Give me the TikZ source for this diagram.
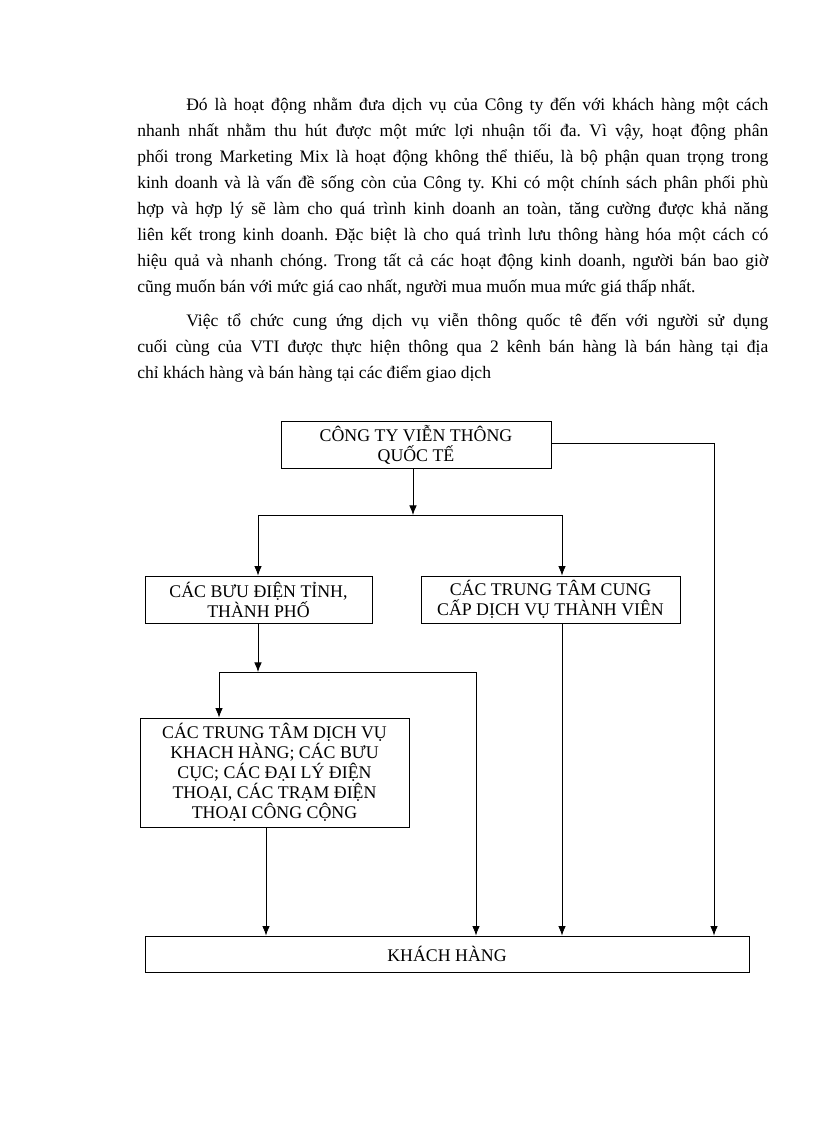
\documentclass[tikz,border=0pt]{standalone}
\usepackage{fontspec}
\setmainfont{Liberation Serif}
\usetikzlibrary{arrows.meta}
\frenchspacing
\newlength\pxu
\setlength\pxu{0.7295pt}
\newcommand\jline[1]{\makebox[631\pxu][s]{#1}}
\newcommand\jfirst[1]{\makebox[582\pxu][s]{#1}}
\begin{document}
\begin{tikzpicture}[x=0.7295pt,y=-0.7295pt,
  bodytext/.style={anchor=base west,inner sep=0pt,font=\fontsize{12.8}{19}\selectfont},
  boxnode/.style={draw,line width=0.6pt,inner sep=0pt,align=center,font=\fontsize{13}{14.6}\selectfont},
  conn/.style={line width=0.6pt},
  arr/.style={line width=0.6pt,-{Latex[length=7pt,width=5.5pt]}}]
\useasboundingbox (0,0) rectangle (816,1123);
% paragraph 1
\node[bodytext] (p1) at (186,110) {\jfirst{Đó là hoạt động nhằm đưa dịch vụ của Công ty đến với khách hàng một cách}};
\node[bodytext] (p2) at (137,136) {\jline{nhanh nhất nhằm thu hút được một mức lợi nhuận tối đa. Vì vậy, hoạt động phân}};
\node[bodytext] (p3) at (137,162) {\jline{phối trong Marketing Mix là hoạt động không thể thiếu, là bộ phận quan trọng trong}};
\node[bodytext] (p4) at (137,188) {\jline{kinh doanh và là vấn đề sống còn của Công ty. Khi có một chính sách phân phối phù}};
\node[bodytext] (p5) at (137,214) {\jline{hợp và hợp lý sẽ làm cho quá trình kinh doanh an toàn, tăng cường được khả năng}};
\node[bodytext] (p6) at (137,240) {\jline{liên kết trong kinh doanh. Đặc biệt là cho quá trình lưu thông hàng hóa một cách có}};
\node[bodytext] (p7) at (137,266) {\jline{hiệu quả và nhanh chóng. Trong tất cả các hoạt động kinh doanh, người bán bao giờ}};
\node[bodytext] (p8) at (137,292) {cũng muốn bán với mức giá cao nhất, người mua muốn mua mức giá thấp nhất.};
% paragraph 2
\node[bodytext] (q1) at (186,326) {\jfirst{Việc tổ chức cung ứng dịch vụ viễn thông quốc tê đến với người sử dụng}};
\node[bodytext] (q2) at (137,352) {\jline{cuối cùng của VTI được thực hiện thông qua 2 kênh bán hàng là bán hàng tại địa}};
\node[bodytext] (q3) at (137,378) {chỉ khách hàng và bán hàng tại các điểm giao dịch};
% boxes
\node[boxnode,minimum width=270\pxu,minimum height=47\pxu] (top) at (416,444.5) {CÔNG TY VIỄN THÔNG\\QUỐC TẾ};
\node[boxnode,minimum width=227\pxu,minimum height=47\pxu] (bdt) at (258.5,599.5) {CÁC BƯU ĐIỆN TỈNH,\\THÀNH PHỐ};
\node[boxnode,minimum width=259\pxu,minimum height=47\pxu] (ttc) at (550.5,599.5) {CÁC TRUNG TÂM CUNG\\CẤP DỊCH VỤ THÀNH VIÊN};
\node[boxnode,minimum width=269\pxu,minimum height=109\pxu] (ttdv) at (274.5,772.5) {CÁC TRUNG TÂM DỊCH VỤ\\KHACH HÀNG; CÁC BƯU\\CỤC; CÁC ĐẠI LÝ ĐIỆN\\THOẠI, CÁC TRẠM ĐIỆN\\THOẠI CÔNG CỘNG};
\node[boxnode,minimum width=604\pxu,minimum height=36\pxu] (kh) at (447,954) {KHÁCH HÀNG};
% junction coordinates
\coordinate (j1) at (413,515);
\coordinate (j1l) at (258,515);
\coordinate (j1r) at (562,515);
\coordinate (rr) at (714,443);
\coordinate (j2) at (258,672);
\coordinate (j2l) at (219,672);
\coordinate (j2r) at (476,672);
\coordinate (d4) at (266,800);
% connectors
\draw[arr] (top.south -| j1) -- (j1);
\draw[conn] (j1l) -- (j1r);
\draw[arr] (j1l) -- (bdt.north -| j1l);
\draw[arr] (j1r) -- (ttc.north -| j1r);
\draw[arr] (top.east |- rr) -- (rr) -- (kh.north -| rr);
\draw[arr] (bdt.south -| j2) -- (j2);
\draw[conn] (j2l) -- (j2r);
\draw[arr] (j2l) -- (ttdv.north -| j2l);
\draw[arr] (j2r) -- (kh.north -| j2r);
\draw[arr] (ttdv.south -| d4) -- (kh.north -| d4);
\draw[arr] (ttc.south -| j1r) -- (kh.north -| j1r);
\end{tikzpicture}
\end{document}
